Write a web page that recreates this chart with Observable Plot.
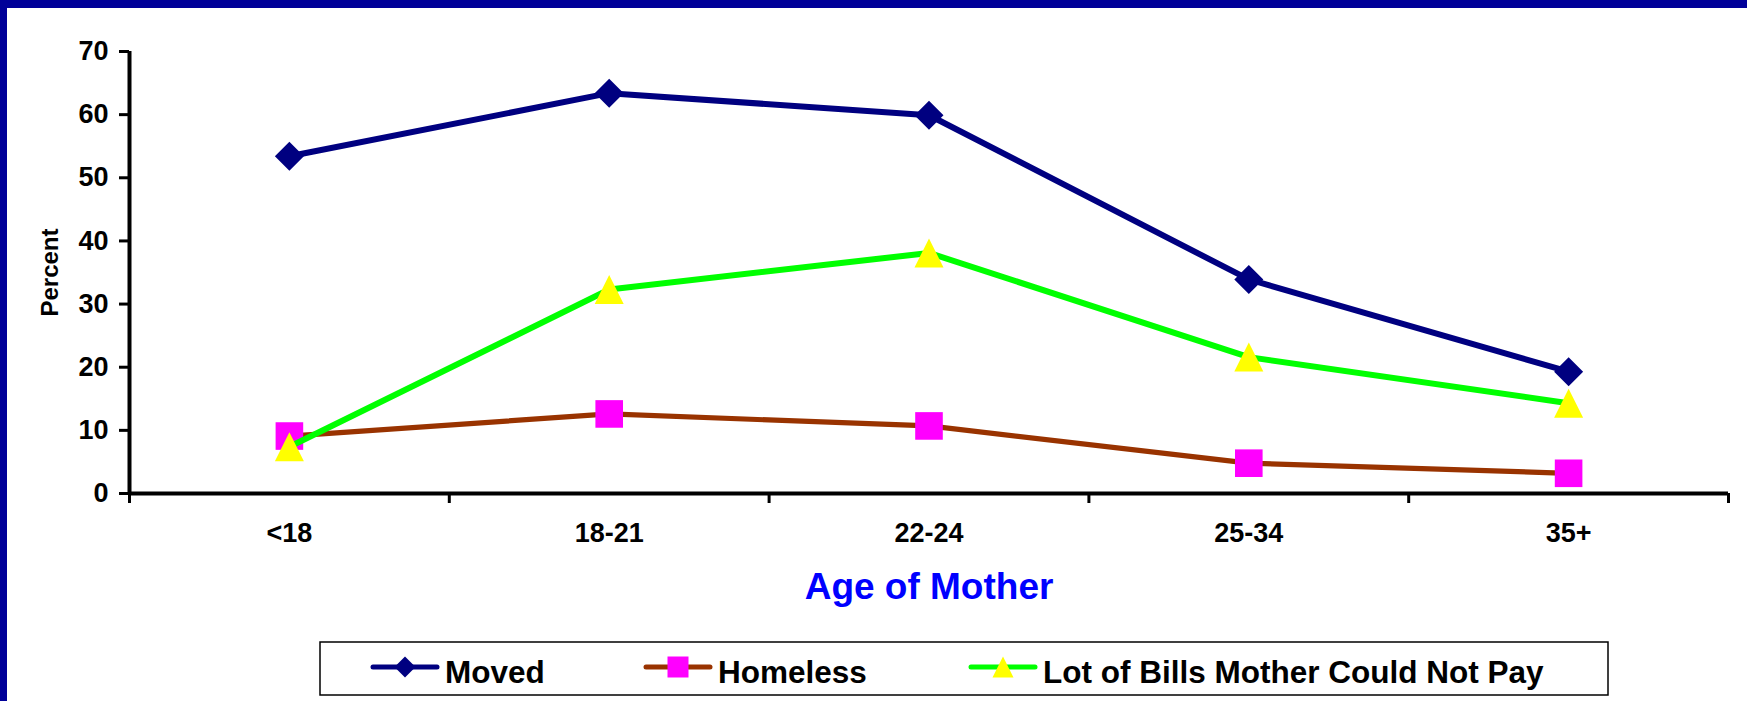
<!DOCTYPE html>
<html>
<head>
<meta charset="utf-8">
<script src="https://cdn.jsdelivr.net/npm/d3@7"></script>
<script src="https://cdn.jsdelivr.net/npm/@observablehq/plot@0.6"></script>
<style>
  html, body { margin: 0; padding: 0; background: #ffffff; }
  #page { position: relative; width: 1747px; height: 701px; overflow: hidden; background: #ffffff; }
  .band { position: absolute; background: #000099; }
  #chart svg, #legend { position: absolute; left: 0; top: 0; }
  #legend { top: 636px; }
</style>
</head>
<body>
<div id="page">
  <div id="chart"></div>
  <svg id="legend" width="1747" height="65"></svg>
  <div class="band" style="left:0;top:0;width:1747px;height:8px"></div>
  <div class="band" style="left:0;top:0;width:7px;height:701px"></div>
</div>
<script>
// ---- data ----
const ages = ["<18", "18-21", "22-24", "25-34", "35+"];
const moved = [53.4, 63.4, 59.9, 33.9, 19.3];
const homeless = [9.1, 12.6, 10.7, 4.8, 3.2];
const bills = [7.4, 32.3, 38.1, 21.6, 14.3];
const seriesNames = ["Moved", "Homeless", "Lot of Bills Mother Could Not Pay"];
const yTicks = [0, 10, 20, 30, 40, 50, 60, 70];
const xTitle = "Age of Mother";
const yTitle = "Percent";

// ---- custom marker shapes (size = r*r*PI in Plot) ----
const diamond = {draw(c, size) { const r = Math.sqrt(size / Math.PI); c.moveTo(0, -r); c.lineTo(r, 0); c.lineTo(0, r); c.lineTo(-r, 0); c.closePath(); }};
const square = {draw(c, size) { const r = Math.sqrt(size / Math.PI); c.moveTo(-r, -r); c.lineTo(r, -r); c.lineTo(r, r); c.lineTo(-r, r); c.closePath(); }};
const triangle = {draw(c, size) { const r = Math.sqrt(size / Math.PI); c.moveTo(0, -r); c.lineTo(r, r); c.lineTo(-r, r); c.closePath(); }};

const series = [
  {name: seriesNames[0], values: moved, stroke: "#000080", fill: "#000080", symbol: diamond, r: 14.5, sw: 6},
  {name: seriesNames[1], values: homeless, stroke: "#993300", fill: "#FF00FF", symbol: square, r: 13.8, sw: 5.2},
  {name: seriesNames[2], values: bills, stroke: "#00FF00", fill: "#FFFF00", symbol: triangle, r: 14.5, sw: 6}
];

const idx = ages.map((_, i) => i);
const bounds = ages.map((_, i) => i - 0.5).concat([ages.length - 0.5]);

const marks = [];
for (const s of series) {
  marks.push(Plot.line(idx, {x: i => i, y: i => s.values[i], stroke: s.stroke, strokeWidth: s.sw, strokeLinejoin: "round", strokeLinecap: "round"}));
  marks.push(Plot.dot(idx, {x: i => i, y: i => s.values[i], symbol: s.symbol, r: s.r, fill: s.fill, stroke: "none"}));
}

const plot = Plot.plot({
  width: 1747,
  height: 620,
  marginLeft: 129,
  marginRight: 19,
  marginTop: 51,
  marginBottom: 127,
  style: {fontFamily: "'Liberation Sans', Arial, sans-serif", fontSize: "27px", fontWeight: "bold", background: "transparent", overflow: "visible", color: "#000"},
  x: {type: "linear", domain: [-0.5, ages.length - 0.5]},
  y: {type: "linear", domain: [0, 70]},
  marks: [
    Plot.axisY({ticks: yTicks, tickSize: 10, tickPadding: 11, strokeWidth: 3, tickFormat: d => String(d), label: null}),
    Plot.axisX({ticks: bounds, tickSize: 10, strokeWidth: 3, tickFormat: () => "", label: null}),
    Plot.axisX({ticks: idx, tickSize: 0, tickPadding: 29, tickFormat: i => ages[i], label: null}),
    Plot.ruleX([-0.5], {stroke: "#000", strokeWidth: 4}),
    Plot.ruleY([0], {stroke: "#000", strokeWidth: 4}),
    Plot.text([yTitle], {frameAnchor: "left", dx: -79, rotate: -90, text: d => d, fontSize: 24, fontWeight: "bold", fill: "#000", textAnchor: "middle"}),
    Plot.text([xTitle], {frameAnchor: "bottom", dy: 94, text: d => d, fontSize: 37, fontWeight: "bold", fill: "#0000FF", lineAnchor: "middle"}),
    ...marks
  ]
});
document.getElementById("chart").appendChild(plot);

// ---- legend ----
const leg = d3.select("#legend");
leg.append("rect").attr("x", 320).attr("y", 6).attr("width", 1288).attr("height", 53)
  .attr("fill", "#fff").attr("stroke", "#000").attr("stroke-width", 1.5);
const legX = [405, 678, 1003];
series.forEach((s, k) => {
  const cx = legX[k], cy = 31;
  leg.append("line").attr("x1", cx - 32).attr("x2", cx + 32).attr("y1", cy).attr("y2", cy)
    .attr("stroke", s.stroke).attr("stroke-width", 5).attr("stroke-linecap", "round");
  leg.append("path").attr("transform", `translate(${cx},${cy})`)
    .attr("d", d3.symbol(s.symbol, 10.5 * 10.5 * Math.PI)()).attr("fill", s.fill);
  leg.append("text").attr("x", cx + 40).attr("y", 46.7).text(s.name)
    .attr("font-family", "'Liberation Sans', Arial, sans-serif").attr("font-weight", "bold")
    .attr("font-size", 31.5).attr("fill", "#000");
});
</script>
</body>
</html>
